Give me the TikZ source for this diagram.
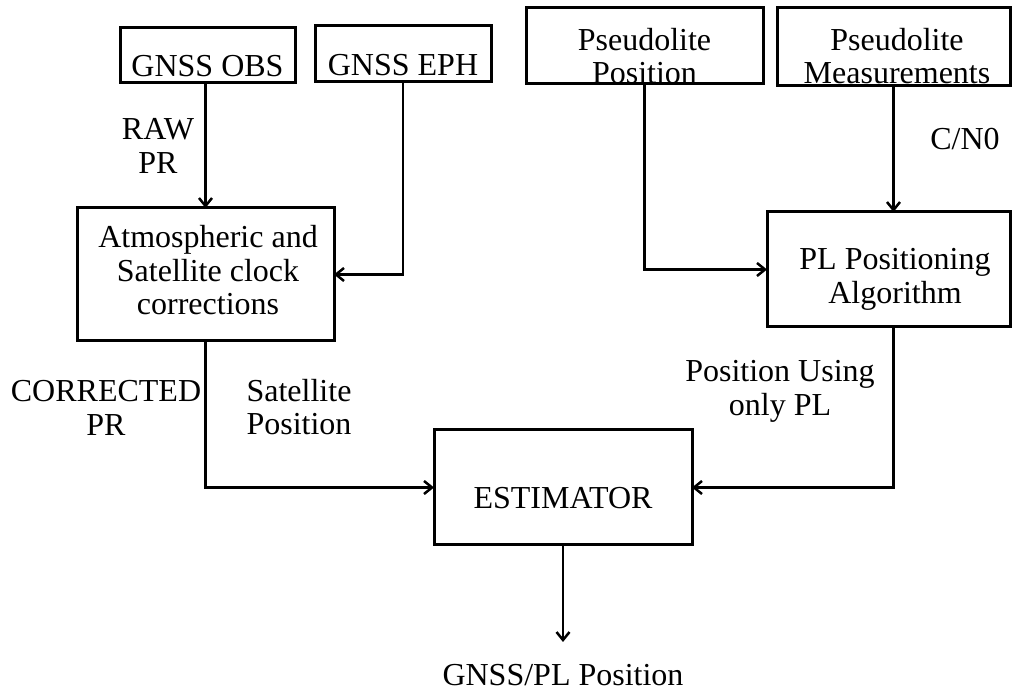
\documentclass[tikz,border=0pt]{standalone}
\usepackage{fontspec}
\setmainfont{Liberation Serif}
\usetikzlibrary{arrows.meta}

\begin{document}
\begin{tikzpicture}[x=1pt,y=1pt,
  box/.style={draw,line width=3pt,inner sep=0pt,outer sep=0pt},
  txt/.style={inner sep=0pt,outer sep=0pt,align=center,font=\fontsize{32}{33.5}\selectfont},
  flow/.style={line width=2.5pt,-{Straight Barb[length=8pt,width=13pt]}}]
\path[use as bounding box] (0,0) rectangle (1012,693);

% input boxes
\node[box,minimum width=175pt,minimum height=55pt] (obs) at (207.5,637.5) {};
\node[txt] (obs-t) at ([yshift=-11pt]obs.center) {GNSS OBS};

\node[box,minimum width=176pt,minimum height=56pt] (eph) at (403,639) {};
\node[txt] (eph-t) at ([yshift=-11.5pt]eph.center) {GNSS EPH};

\node[box,minimum width=237pt,minimum height=76pt] (pp) at (644.5,647) {};
\node[txt] (pp-t) at ([yshift=-10pt]pp.center) {Pseudolite\\Position};

\node[box,minimum width=233pt,minimum height=78pt] (pm) at (893.5,646) {};
\node[txt] (pm-t) at ([xshift=3.5pt,yshift=-9pt]pm.center) {Pseudolite\\Measurements};

% processing boxes
\node[box,minimum width=257pt,minimum height=133pt] (atm) at (205.5,418.5) {};
\node[txt] (atm-t) at ([xshift=2.5pt,yshift=4pt]atm.center) {Atmospheric and\\Satellite clock\\corrections};

\node[box,minimum width=243pt,minimum height=115pt] (pl) at (888.5,423.5) {};
\node[txt] (pl-t) at ([xshift=6.5pt,yshift=-10pt]pl.center) {PL Positioning\\Algorithm};

\node[box,minimum width=258pt,minimum height=115pt] (est) at (563,205.5) {};
\node[txt] (est-t) at ([yshift=-11pt]est.center) {ESTIMATOR};

\coordinate (out) at (563,51);

% connectors
\draw[flow] (atm.north |- obs.south) -- (atm.north);
\draw[flow] (eph.south) |- (atm.east);
\draw[flow] (pp.south) |- (pl.west);
\draw[flow] (pm.south) -- (pm.south |- pl.north);
\draw[flow] (atm.south) |- (est.west);
\draw[flow] (pm.south |- pl.south) |- (est.east);
\draw[flow] (est.south) -- (out);

% connector labels
\node[txt] (raw) at (158,547) {RAW\\PR};
\node[txt] (cn0) at (965,554) {C/N0};
\node[txt] (corr) at (106,285) {CORRECTED\\PR};
\node[txt] (satpos) at (299,286) {Satellite\\Position};
\node[txt] (plpos) at (780,301.5) {Position Using\\only PL};
\node[txt,anchor=base] (result) at (563,7) {GNSS/PL Position};
\end{tikzpicture}
\end{document}
